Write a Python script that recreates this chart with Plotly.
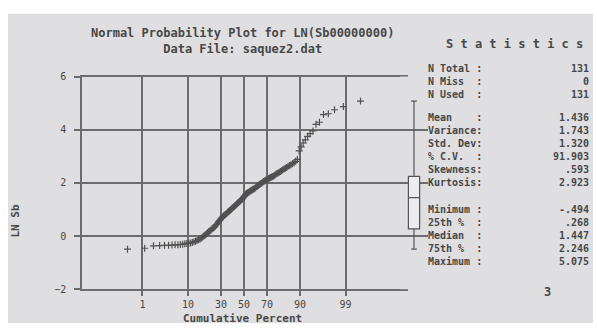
import plotly.graph_objects as go
from statistics import NormalDist

W, H = 597, 329

# ---------------- data ----------------
ln_sb_sorted = [
    -0.494, -0.46, -0.37, -0.36, -0.35, -0.35, -0.34, -0.33, -0.33, -0.32,
    -0.31, -0.29, -0.28, -0.27, -0.26, -0.24, -0.22, -0.20, -0.17, -0.14,
    -0.11, -0.08, -0.04, 0.00, 0.04, 0.08, 0.12, 0.16, 0.20, 0.23,
    0.27, 0.30, 0.33, 0.38, 0.43, 0.48, 0.53, 0.57, 0.62, 0.66,
    0.70, 0.74, 0.77, 0.80, 0.83, 0.86, 0.89, 0.92, 0.95, 0.98,
    1.01, 1.04, 1.07, 1.10, 1.13, 1.16, 1.19, 1.22, 1.25, 1.28,
    1.31, 1.34, 1.37, 1.40, 1.43, 1.47, 1.52, 1.57, 1.60, 1.62,
    1.64, 1.66, 1.68, 1.70, 1.72, 1.74, 1.76, 1.78, 1.80, 1.83,
    1.86, 1.88, 1.91, 1.94, 1.96, 1.98, 2.00, 2.03, 2.05, 2.08,
    2.10, 2.12, 2.14, 2.16, 2.18, 2.20, 2.22, 2.24, 2.26, 2.29,
    2.32, 2.35, 2.37, 2.40, 2.43, 2.46, 2.49, 2.52, 2.55, 2.58,
    2.62, 2.65, 2.68, 2.72, 2.76, 2.81, 2.88, 3.20, 3.35, 3.50,
    3.62, 3.75, 3.85, 3.95, 4.20, 4.28, 4.57, 4.60, 4.75, 4.87,
    5.075,
]
percent_ticks = [1, 10, 30, 50, 70, 90, 99]
y_ticks = [-2, 0, 2, 4, 6]

stat_labels_1 = ["N Total :", "N Miss  :", "N Used  :"]
stat_values_1 = ["131", "0", "131"]
stat_labels_2 = ["Mean    :", "Variance:", "Std. Dev:", "% C.V.  :", "Skewness:", "Kurtosis:"]
stat_values_2 = ["1.436", "1.743", "1.320", "91.903", ".593", "2.923"]
stat_labels_3 = ["Minimum :", "25th %  :", "Median  :", "75th %  :", "Maximum :"]
stat_values_3 = ["-.494", ".268", "1.447", "2.246", "5.075"]
box_q1, box_median, box_q3 = 0.268, 1.447, 2.246
box_min, box_max = -0.494, 5.075

# ---------------- helpers ----------------
nd = NormalDist()
n = len(ln_sb_sorted)
xz = [nd.inv_cdf((i + 0.5) / n) for i in range(n)]
tick_z = [nd.inv_cdf(p / 100) for p in percent_ticks]

def px(x):
    return x / W

def py(y):
    return 1 - y / H

FONT = "DejaVu Sans Mono"
TXT = "#474747"
GRID = "#6c6c6c"
BG = "rgb(223,223,225)"

fig = go.Figure()
fig.add_trace(go.Scatter(
    x=xz, y=ln_sb_sorted, mode="markers",
    marker=dict(symbol="cross-thin", size=5, line=dict(width=1.2, color="#505050")),
    hoverinfo="skip", showlegend=False,
))
fig.add_trace(go.Box(
    x=[0], q1=[box_q1], median=[box_median], q3=[box_q3],
    lowerfence=[box_min], upperfence=[box_max],
    xaxis="x2", yaxis="y", width=0.8, whiskerwidth=0.5,
    line=dict(color="#555555", width=1.2), fillcolor="rgb(236,236,238)",
    hoverinfo="skip", showlegend=False,
))

fig.update_layout(
    width=W, height=H, margin=dict(l=0, r=0, t=0, b=0),
    paper_bgcolor="white", plot_bgcolor=BG,
    font=dict(family=FONT, color=TXT, size=11),
    xaxis=dict(
        domain=[px(82), px(406)], range=[-3.71, 3.71],
        tickvals=tick_z, ticktext=[str(p) for p in percent_ticks],
        showgrid=True, gridcolor=GRID, gridwidth=1.5,
        showline=True, linecolor=GRID, linewidth=1.5, mirror=True,
        ticks="outside", ticklen=5, tickcolor=GRID, tickwidth=1.5,
        zeroline=False, fixedrange=True,
        tickfont=dict(family=FONT, size=10, color=TXT),
    ),
    yaxis=dict(
        domain=[py(294), py(74)], range=[-2, 6],
        tickvals=y_ticks, ticksuffix=".",
        showgrid=True, gridcolor=GRID, gridwidth=1.5,
        showline=True, linecolor=GRID, linewidth=1.5, mirror=True,
        ticks="outside", ticklen=6, tickcolor=GRID, tickwidth=1.5,
        ticklabelstandoff=6,
        zeroline=False, fixedrange=True,
        tickfont=dict(family=FONT, size=10, color=TXT),
    ),
    xaxis2=dict(domain=[px(400), px(428)], range=[-1, 1], anchor="y",
                visible=False, fixedrange=True),
)

shapes = [
    dict(type="rect", xref="paper", yref="paper", x0=px(8), x1=px(593),
         y0=py(329), y1=py(9), fillcolor=BG, line=dict(width=0), layer="below"),
]
fig.update_layout(shapes=shapes)

ann = []
def text(x, y, s, anchor="left", size=12, angle=0, bold=True):
    ann.append(dict(xref="paper", yref="paper", x=px(x), y=py(y),
                    text=(f"<b>{s}</b>" if bold else s),
                    showarrow=False, xanchor=anchor, yanchor="middle", textangle=angle,
                    align=anchor,
                    font=dict(family=FONT, size=size, color=TXT)))

text(242, 37, "Normal Probability Plot for LN(Sb00000000)<br>Data File: saquez2.dat",
     "center", 12)
text(514, 40, "S t a t i s t i c s", "center", 12)
text(242, 324, "Cumulative Percent", "center", 11)
text(16, 224, "LN Sb", "center", 11, angle=-90)

groups = [
    (79, stat_labels_1, stat_values_1),
    (150.5, stat_labels_2, stat_values_2),
    (238, stat_labels_3, stat_values_3),
]
for yc, labs, vals in groups:
    text(426, yc, "<br>".join(l.replace(" ", "&nbsp;") for l in labs), "left", 10)
    text(591, yc, "<br>".join(vals), "right", 10)

text(547, 297, "3", "center", 12)

fig.update_layout(annotations=ann)

fig.write_html("out.html", config={"displayModeBar": False},
               post_script="document.body.style.margin='0';")
